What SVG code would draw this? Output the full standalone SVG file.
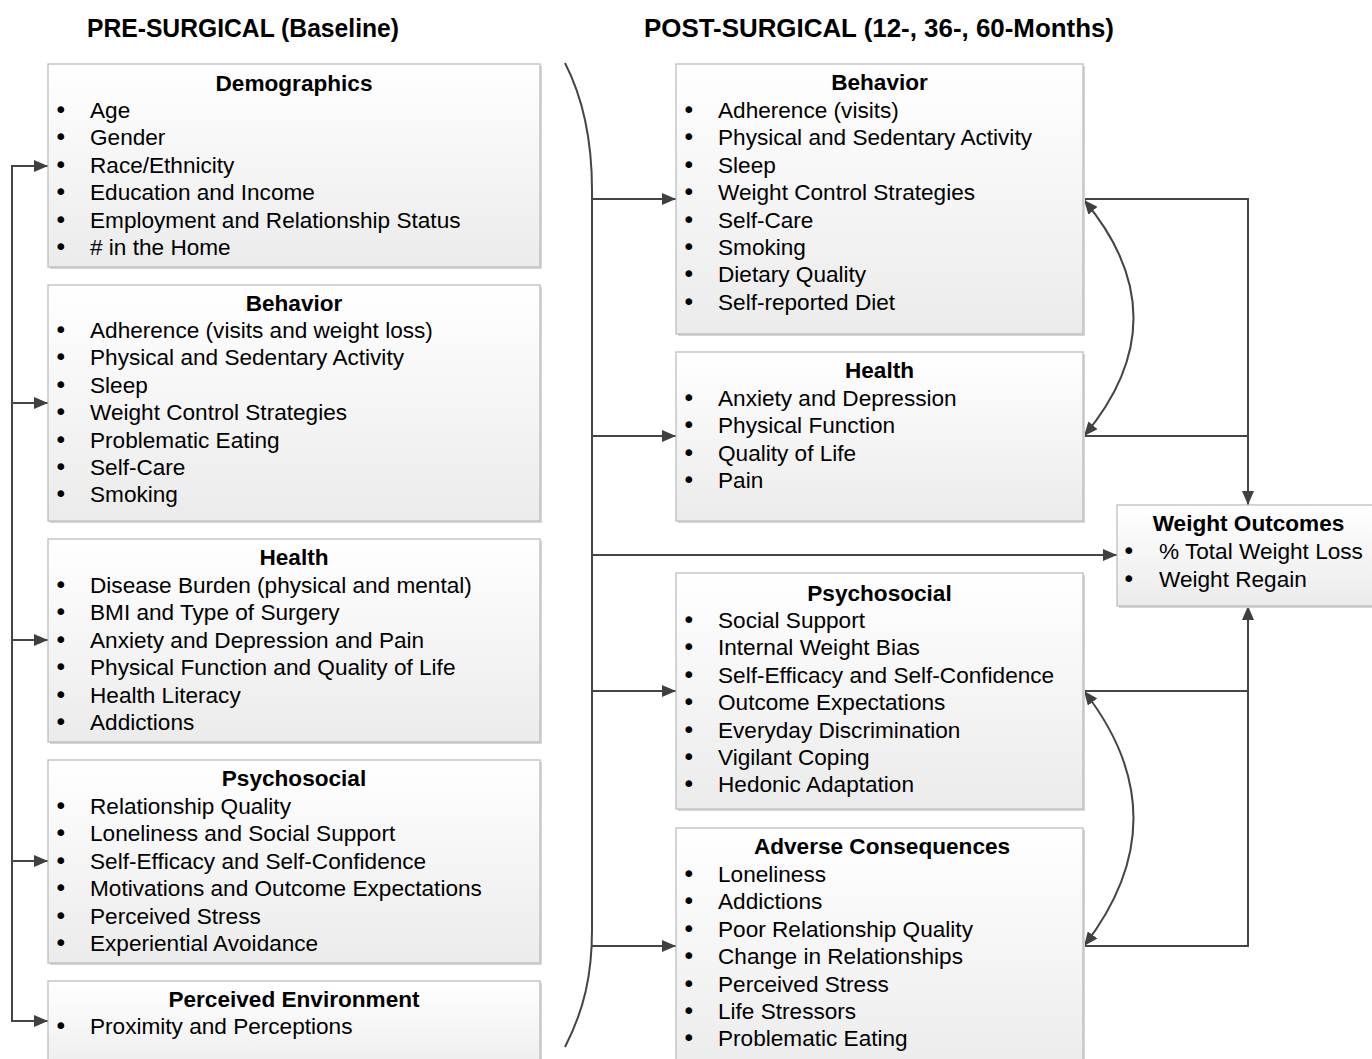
<svg xmlns="http://www.w3.org/2000/svg" width="1372" height="1059" viewBox="0 0 1372 1059">
<style>
text{font-family:"Liberation Sans",Arial,sans-serif;fill:#000}
.t{font-size:22.6px;font-weight:bold;text-anchor:middle}
.i{font-size:22.6px}
.b{font-family:"DejaVu Sans",sans-serif;font-size:23px}
.h{font-size:25px;font-weight:bold}
.box{fill:url(#g);stroke:#bdbdbd;stroke-width:1.3}
.sh{fill:#d6d6d6}
.c{fill:none;stroke:#454545;stroke-width:2}
.a{marker-end:url(#ah)}
.aa{marker-start:url(#ah);marker-end:url(#ah)}
</style>
<defs>
<linearGradient id="g" x1="0" y1="0" x2="0" y2="1">
<stop offset="0" stop-color="#ffffff"/>
<stop offset="1" stop-color="#ebebeb"/>
</linearGradient>
<marker id="ah" markerUnits="userSpaceOnUse" markerWidth="14" markerHeight="12" refX="14" refY="6" orient="auto-start-reverse">
<path d="M0,0 L14,6 L0,12 z" fill="#404040"/>
</marker>
</defs>
<rect width="1372" height="1059" fill="#fff"/>

<text class="h" x="87" y="37" textLength="312" lengthAdjust="spacingAndGlyphs">PRE-SURGICAL (Baseline)</text>
<text class="h" x="644" y="37" textLength="470" lengthAdjust="spacingAndGlyphs">POST-SURGICAL (12-, 36-, 60-Months)</text>

<g id="connectors">
<path class="c a" d="M12,166 L48,166"/>
<path class="c" d="M12,165 L12,1022"/>
<path class="c a" d="M12,403 L48,403"/>
<path class="c a" d="M12,640 L48,640"/>
<path class="c a" d="M12,861 L48,861"/>
<path class="c a" d="M11,1021 L48,1021"/>
<path class="c" d="M565,63 C584,100 592,140 592,190 L592,930 C592,975 584,1010 565,1047"/>
<path class="c a" d="M592,199 L676,199"/>
<path class="c a" d="M592,436 L676,436"/>
<path class="c a" d="M592,555 L1117,555"/>
<path class="c a" d="M592,691 L676,691"/>
<path class="c a" d="M592,946 L676,946"/>
<path class="c" d="M1083,199 L1249,199"/>
<path class="c a" d="M1248,198 L1248,505"/>
<path class="c" d="M1083,436 L1248,436"/>
<path class="c" d="M1083,691 L1248,691"/>
<path class="c" d="M1083,946 L1249,946"/>
<path class="c a" d="M1248,947 L1248,606"/>
<path class="c aa" d="M1084,200 Q1183,318 1084,436"/>
<path class="c aa" d="M1084,691 Q1183,818 1084,946"/>
</g>

<g id="pre-demographics">
<rect class="sh" x="50" y="66" width="492" height="203"/>
<rect class="box" x="48" y="64" width="492" height="203"/>
<text class="t" x="294" y="91">Demographics</text>
<text class="b"><tspan x="54" y="118">•</tspan><tspan x="54" y="145.4">•</tspan><tspan x="54" y="172.8">•</tspan><tspan x="54" y="200.2">•</tspan><tspan x="54" y="227.6">•</tspan><tspan x="54" y="255">•</tspan></text>
<text class="i"><tspan x="90" y="118">Age</tspan><tspan x="90" y="145.4">Gender</tspan><tspan x="90" y="172.8">Race/Ethnicity</tspan><tspan x="90" y="200.2">Education and Income</tspan><tspan x="90" y="227.6">Employment and Relationship Status</tspan><tspan x="90" y="255"># in the Home</tspan></text>
</g>

<g id="pre-behavior">
<rect class="sh" x="50" y="287" width="492" height="236"/>
<rect class="box" x="48" y="285" width="492" height="236"/>
<text class="t" x="294" y="311">Behavior</text>
<text class="b"><tspan x="54" y="338">•</tspan><tspan x="54" y="365.4">•</tspan><tspan x="54" y="392.8">•</tspan><tspan x="54" y="420.2">•</tspan><tspan x="54" y="447.6">•</tspan><tspan x="54" y="475">•</tspan><tspan x="54" y="502.4">•</tspan></text>
<text class="i"><tspan x="90" y="338">Adherence (visits and weight loss)</tspan><tspan x="90" y="365.4">Physical and Sedentary Activity</tspan><tspan x="90" y="392.8">Sleep</tspan><tspan x="90" y="420.2">Weight Control Strategies</tspan><tspan x="90" y="447.6">Problematic Eating</tspan><tspan x="90" y="475">Self-Care</tspan><tspan x="90" y="502.4">Smoking</tspan></text>
</g>

<g id="pre-health">
<rect class="sh" x="50" y="541" width="492" height="203"/>
<rect class="box" x="48" y="539" width="492" height="203"/>
<text class="t" x="294" y="565">Health</text>
<text class="b"><tspan x="54" y="593">•</tspan><tspan x="54" y="620.4">•</tspan><tspan x="54" y="647.8">•</tspan><tspan x="54" y="675.2">•</tspan><tspan x="54" y="702.6">•</tspan><tspan x="54" y="730">•</tspan></text>
<text class="i"><tspan x="90" y="593">Disease Burden (physical and mental)</tspan><tspan x="90" y="620.4">BMI and Type of Surgery</tspan><tspan x="90" y="647.8">Anxiety and Depression and Pain</tspan><tspan x="90" y="675.2">Physical Function and Quality of Life</tspan><tspan x="90" y="702.6">Health Literacy</tspan><tspan x="90" y="730">Addictions</tspan></text>
</g>

<g id="pre-psychosocial">
<rect class="sh" x="50" y="762" width="492" height="203"/>
<rect class="box" x="48" y="760" width="492" height="203"/>
<text class="t" x="294" y="786">Psychosocial</text>
<text class="b"><tspan x="54" y="814">•</tspan><tspan x="54" y="841.4">•</tspan><tspan x="54" y="868.8">•</tspan><tspan x="54" y="896.2">•</tspan><tspan x="54" y="923.6">•</tspan><tspan x="54" y="951">•</tspan></text>
<text class="i"><tspan x="90" y="814">Relationship Quality</tspan><tspan x="90" y="841.4">Loneliness and Social Support</tspan><tspan x="90" y="868.8">Self-Efficacy and Self-Confidence</tspan><tspan x="90" y="896.2">Motivations and Outcome Expectations</tspan><tspan x="90" y="923.6">Perceived Stress</tspan><tspan x="90" y="951">Experiential Avoidance</tspan></text>
</g>

<g id="pre-environment">
<rect class="sh" x="50" y="983" width="492" height="100"/>
<rect class="box" x="48" y="981" width="492" height="100"/>
<text class="t" x="294" y="1007">Perceived Environment</text>
<text class="b"><tspan x="54" y="1034">•</tspan></text>
<text class="i"><tspan x="90" y="1034">Proximity and Perceptions</tspan></text>
</g>

<g id="post-behavior">
<rect class="sh" x="678" y="66" width="407" height="270"/>
<rect class="box" x="676" y="64" width="407" height="270"/>
<text class="t" x="879.5" y="90">Behavior</text>
<text class="b"><tspan x="682" y="118">•</tspan><tspan x="682" y="145.4">•</tspan><tspan x="682" y="172.8">•</tspan><tspan x="682" y="200.2">•</tspan><tspan x="682" y="227.6">•</tspan><tspan x="682" y="255">•</tspan><tspan x="682" y="282.4">•</tspan><tspan x="682" y="309.8">•</tspan></text>
<text class="i"><tspan x="718" y="118">Adherence (visits)</tspan><tspan x="718" y="145.4">Physical and Sedentary Activity</tspan><tspan x="718" y="172.8">Sleep</tspan><tspan x="718" y="200.2">Weight Control Strategies</tspan><tspan x="718" y="227.6">Self-Care</tspan><tspan x="718" y="255">Smoking</tspan><tspan x="718" y="282.4">Dietary Quality</tspan><tspan x="718" y="309.8">Self-reported Diet</tspan></text>
</g>

<g id="post-health">
<rect class="sh" x="678" y="354" width="407" height="169"/>
<rect class="box" x="676" y="352" width="407" height="169"/>
<text class="t" x="879.5" y="378">Health</text>
<text class="b"><tspan x="682" y="406">•</tspan><tspan x="682" y="433.4">•</tspan><tspan x="682" y="460.8">•</tspan><tspan x="682" y="488.2">•</tspan></text>
<text class="i"><tspan x="718" y="406">Anxiety and Depression</tspan><tspan x="718" y="433.4">Physical Function</tspan><tspan x="718" y="460.8">Quality of Life</tspan><tspan x="718" y="488.2">Pain</tspan></text>
</g>

<g id="post-psychosocial">
<rect class="sh" x="678" y="575" width="407" height="236"/>
<rect class="box" x="676" y="573" width="407" height="236"/>
<text class="t" x="879.5" y="601">Psychosocial</text>
<text class="b"><tspan x="682" y="628">•</tspan><tspan x="682" y="655.4">•</tspan><tspan x="682" y="682.8">•</tspan><tspan x="682" y="710.2">•</tspan><tspan x="682" y="737.6">•</tspan><tspan x="682" y="765">•</tspan><tspan x="682" y="792.4">•</tspan></text>
<text class="i"><tspan x="718" y="628">Social Support</tspan><tspan x="718" y="655.4">Internal Weight Bias</tspan><tspan x="718" y="682.8">Self-Efficacy and Self-Confidence</tspan><tspan x="718" y="710.2">Outcome Expectations</tspan><tspan x="718" y="737.6">Everyday Discrimination</tspan><tspan x="718" y="765">Vigilant Coping</tspan><tspan x="718" y="792.4">Hedonic Adaptation</tspan></text>
</g>

<g id="post-adverse">
<rect class="sh" x="678" y="830" width="407" height="250"/>
<rect class="box" x="676" y="828" width="407" height="250"/>
<text class="t" x="882" y="854">Adverse Consequences</text>
<text class="b"><tspan x="682" y="882">•</tspan><tspan x="682" y="909.4">•</tspan><tspan x="682" y="936.8">•</tspan><tspan x="682" y="964.2">•</tspan><tspan x="682" y="991.6">•</tspan><tspan x="682" y="1019">•</tspan><tspan x="682" y="1046.4">•</tspan></text>
<text class="i"><tspan x="718" y="882">Loneliness</tspan><tspan x="718" y="909.4">Addictions</tspan><tspan x="718" y="936.8">Poor Relationship Quality</tspan><tspan x="718" y="964.2">Change in Relationships</tspan><tspan x="718" y="991.6">Perceived Stress</tspan><tspan x="718" y="1019">Life Stressors</tspan><tspan x="718" y="1046.4">Problematic Eating</tspan></text>
</g>

<g id="weight-outcomes">
<rect class="sh" x="1119" y="507" width="262" height="101"/>
<rect class="box" x="1117" y="505" width="262" height="101"/>
<text class="t" x="1248.5" y="531">Weight Outcomes</text>
<text class="b"><tspan x="1122" y="559">•</tspan><tspan x="1122" y="587">•</tspan></text>
<text class="i"><tspan x="1159" y="559">% Total Weight Loss</tspan><tspan x="1159" y="587">Weight Regain</tspan></text>
</g>
</svg>
